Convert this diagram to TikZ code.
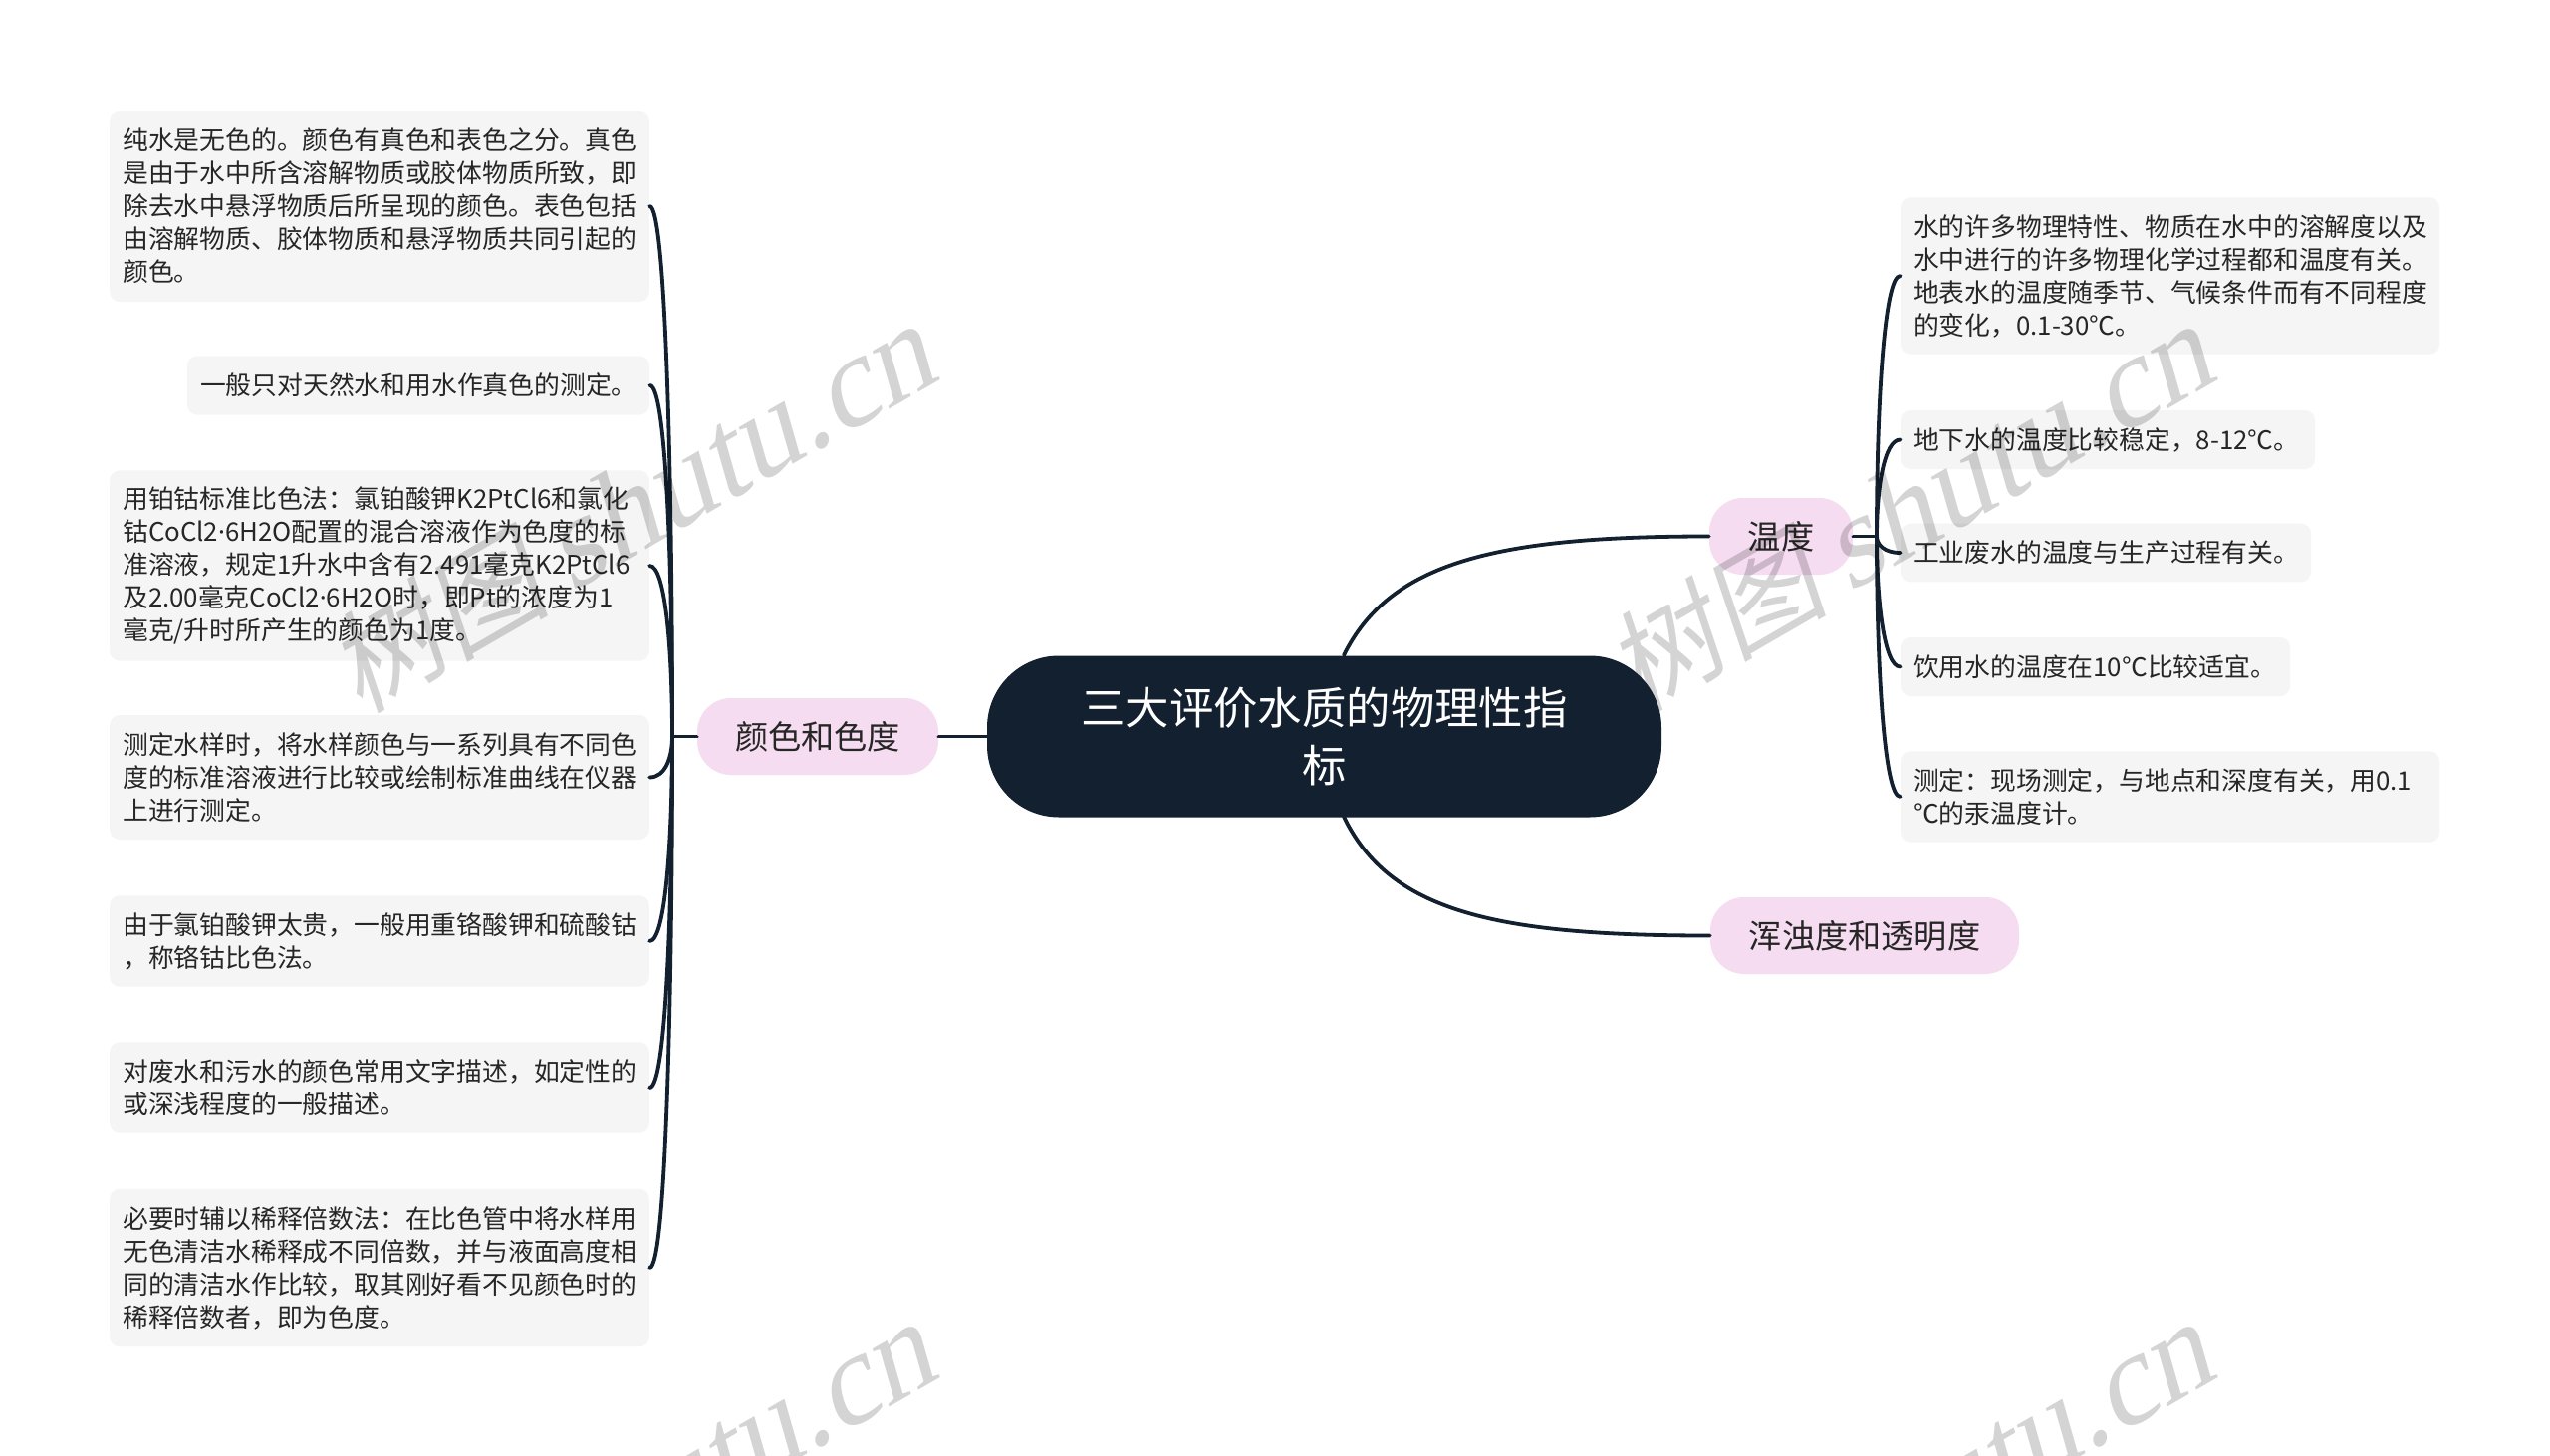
\documentclass[tikz,border=0pt]{standalone}
\usepackage{fontspec}
\setmainfont{Noto Sans CJK SC}
\newfontfamily\wmcjk[FakeSlant=0.2]{Noto Sans CJK SC}
\newfontfamily\wmlat[FakeSlant=0.25]{Liberation Serif}
\newfontfamily\dotfont{Noto Sans}
\usetikzlibrary{calc}
\definecolor{inkdark}{HTML}{13202F}
\definecolor{leaffill}{HTML}{F5F5F5}
\definecolor{pillfill}{HTML}{F5DCF0}
\definecolor{txt}{HTML}{262626}
\tikzset{
  leaf/.style={rectangle,rounded corners=5pt,fill=leaffill,text=txt,align=left,inner xsep=6.5pt,inner ysep=0pt,
    font=\fontsize{12.9}{16.5}\selectfont},
  leafw/.style={text width=#1pt-13pt},
  pill/.style={rectangle,rounded corners=17pt,fill=pillfill,text=txt,minimum height=38.5pt,inner sep=0pt,
    font=\fontsize{16.6}{20}\selectfont},
  rootbox/.style={rectangle,rounded corners=36pt,fill=inkdark,text=white,align=center,inner sep=0pt,
    minimum width=338.5pt,minimum height=81pt,font=\fontsize{22.2}{29}\selectfont},
  link/.style={draw=inkdark,line width=1.9pt,line cap=round},
  wmark/.style={anchor=base east,rotate=30,text=black,text opacity=0.17,inner sep=0pt}
}
\newcommand{\branchlink}[3]{\draw[link] (#1) .. controls ($(#1)!0.5!(#1 |- #2)$) and ($(#2)+(#3,0)$) .. (#2);}
\newcommand{\wmtext}{{\fontsize{56}{56}\selectfont\wmcjk 树图}\hspace{10pt}{\fontsize{64}{64}\selectfont\wmlat shutu.cn}}
\newcommand{\cdotmark}{{\dotfont ·}}
\begin{document}
\begin{tikzpicture}[x=0.5pt,y=-0.5pt]
\path[use as bounding box,fill=white] (0,0) rectangle (2560,1462);

\node[pill,minimum width=121pt] (color) at (821,739.5) {颜色和色度};
\node[pill,minimum width=72pt] (temp) at (1788,538.5) {温度};
\node[pill,minimum width=155pt] (turb) at (1872,939.5) {浑浊度和透明度};

\node[leaf,leafw=270.8,minimum height=96pt] (L1) at (381,207) {纯水是无色的。颜色有真色和表色之分。真色\\是由于水中所含溶解物质或胶体物质所致，即\\除去水中悬浮物质后所呈现的颜色。表色包括\\由溶解物质、胶体物质和悬浮物质共同引起的\\颜色。};
\node[leaf,leafw=232,minimum height=29.5pt] (L2) at (420,387) {一般只对天然水和用水作真色的测定。};
\node[leaf,leafw=270.8,minimum height=95.7pt] (L3) at (381,568) {用铂钴标准比色法：氯铂酸钾K2PtCl6和氯化\\钴CoCl2\cdotmark 6H2O配置的混合溶液作为色度的标\\准溶液，规定1升水中含有2.491毫克K2PtCl6\\及2.00毫克CoCl2\cdotmark 6H2O时，即Pt的浓度为1\\毫克/升时所产生的颜色为1度。};
\node[leaf,leafw=270.8,minimum height=62.5pt] (L4) at (381,780.5) {测定水样时，将水样颜色与一系列具有不同色\\度的标准溶液进行比较或绘制标准曲线在仪器\\上进行测定。};
\node[leaf,leafw=270.8,minimum height=45.7pt] (L5) at (381,945) {由于氯铂酸钾太贵，一般用重铬酸钾和硫酸钴\\，称铬钴比色法。};
\node[leaf,leafw=270.8,minimum height=45.7pt] (L6) at (381,1092) {对废水和污水的颜色常用文字描述，如定性的\\或深浅程度的一般描述。};
\node[leaf,leafw=270.8,minimum height=79.2pt] (L7) at (381,1273) {必要时辅以稀释倍数法：在比色管中将水样用\\无色清洁水稀释成不同倍数，并与液面高度相\\同的清洁水作比较，取其刚好看不见颜色时的\\稀释倍数者，即为色度。};

\node[leaf,leafw=270.5,minimum height=78.7pt] (R1) at (2178.5,277) {水的许多物理特性、物质在水中的溶解度以及\\水中进行的许多物理化学过程都和温度有关。\\地表水的温度随季节、气候条件而有不同程度\\的变化，\mbox{0.1-30℃。}};
\node[leaf,leafw=208,minimum height=29.5pt] (R2) at (2116,441.5) {地下水的温度比较稳定，\mbox{8-12℃。}};
\node[leaf,leafw=206,minimum height=29.3pt] (R3) at (2114,555) {工业废水的温度与生产过程有关。};
\node[leaf,leafw=195.5,minimum height=29.5pt] (R4) at (2103.5,669.5) {饮用水的温度在10℃比较适宜。};
\node[leaf,leafw=270.5,minimum height=45.7pt] (R5) at (2178.5,800) {测定：现场测定，与地点和深度有关，用0.1\\℃的汞温度计。};

\coordinate (spineL) at (675,739.5);
\coordinate (spineR) at (1884,538.5);
\coordinate (rootTop) at (1349,658);
\coordinate (rootBot) at (1349,820);

\draw[link] (rootTop) .. controls (1395,565) and (1500,538.5) .. (temp.west);
\draw[link] (rootBot) .. controls (1395,915) and (1500,939.5) .. (turb.west);
\draw[link] (color.west) -- (spineL);
\draw[link] (temp.east) -- (spineR);

\branchlink{spineL}{L1.east}{16}
\branchlink{spineL}{L2.east}{16}
\branchlink{spineL}{L3.east}{16}
\branchlink{spineL}{L4.east}{16}
\branchlink{spineL}{L5.east}{16}
\branchlink{spineL}{L6.east}{16}
\branchlink{spineL}{L7.east}{16}
\branchlink{spineR}{R1.west}{-16}
\branchlink{spineR}{R2.west}{-16}
\branchlink{spineR}{R3.west}{-16}
\branchlink{spineR}{R4.west}{-16}
\branchlink{spineR}{R5.west}{-16}

\begin{scope}
\clip (0,0) rectangle (2560,1462);
\node[wmark] (wm1) at (946,380) {\wmtext};
\node[wmark] (wm2) at (2229,380) {\wmtext};
\node[wmark] (wm3) at (946,1382) {\wmtext};
\node[wmark] (wm4) at (2229,1382) {\wmtext};
\end{scope}

\node[rootbox] (root) at (1329.5,739.5) {三大评价水质的物理性指\\标};
\draw[link] (color.east) -- (root.west);
\end{tikzpicture}
\end{document}
